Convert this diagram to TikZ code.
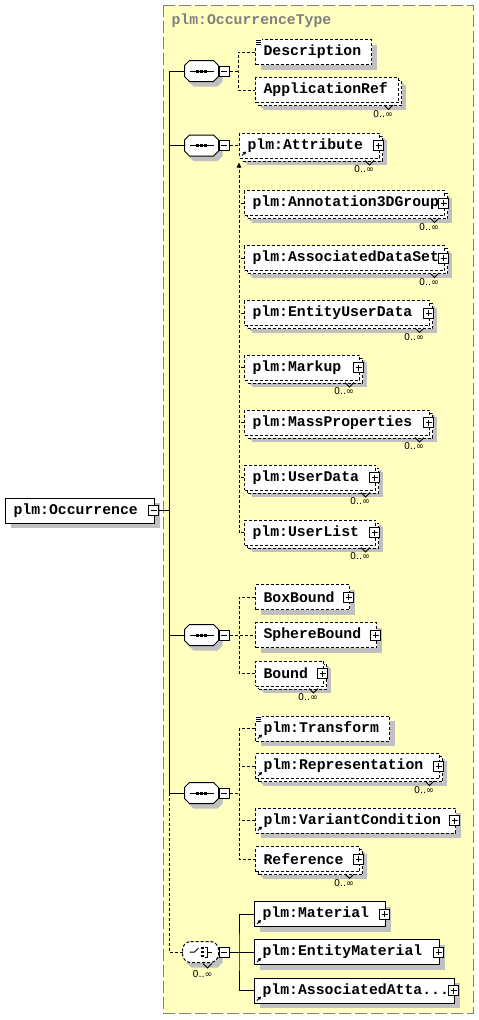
\documentclass[tikz,border=0pt]{standalone}
\usepackage{fontspec}
\usepackage{tikz}
\usetikzlibrary{arrows.meta, positioning, shadows}
\newfontfamily\elfamily{Liberation Mono}
\newfontfamily\cardfamily{DejaVu Sans}
\newcommand\elfont{\elfamily\bfseries\fontsize{14.8}{16}\selectfont\hyphenpenalty=10000 }
\newcommand\cardfont{\cardfamily\fontsize{9.5}{10}\selectfont}
\definecolor{typebg}{RGB}{255,255,192}
\definecolor{typeline}{RGB}{128,128,128}
\definecolor{shadowgray}{RGB}{192,192,192}
% outline of a compositor box
\newcommand\octpath[1]{([xshift=5pt]#1.north west) -- ([xshift=-5pt]#1.north east)
  -- ([yshift=-5pt]#1.north east) -- ([yshift=5pt]#1.south east)
  -- ([xshift=-5pt]#1.south east) -- ([xshift=5pt]#1.south west)
  -- ([yshift=5pt]#1.south west) -- ([yshift=-5pt]#1.north west) -- cycle}
\tikzset{
  opt/.style={dash pattern=on 3pt off 2pt},
  elem/.style={draw, fill=white, font=\elfont, anchor=west, minimum height=25pt,
    inner xsep=8pt, inner ysep=0pt, text width=#1, align=left,
    drop shadow={shadow xshift=5pt, shadow yshift=-5pt, fill=shadowgray, opacity=1}},
  many/.style={drop shadow={shadow xshift=7pt, shadow yshift=-7pt, fill=shadowgray, opacity=1},
    general shadow={shadow xshift=3pt, shadow yshift=-3pt, draw=black, fill=white, opt}},
  comp/.style={minimum width=33pt, minimum height=20pt, inner sep=0pt},
  compshadow/.style={fill=shadowgray, transform canvas={shift={(4pt,-5pt)}}},
  pmbox/.style={draw, solid, fill=white, minimum size=10pt, inner sep=0pt},
  plusbox/.style={pmbox, path picture={
    \draw ([xshift=-3pt]path picture bounding box.center) -- ([xshift=3pt]path picture bounding box.center);
    \draw ([yshift=-3pt]path picture bounding box.center) -- ([yshift=3pt]path picture bounding box.center);}},
  minusbox/.style={pmbox, path picture={
    \draw ([xshift=-3pt]path picture bounding box.center) -- ([xshift=3pt]path picture bounding box.center);}},
  card/.style={font=\cardfont, inner sep=0pt},
  refarrow/.style={solid, -{Triangle[length=3pt, width=3.5pt]}}
}

\begin{document}
\begin{tikzpicture}[x=1pt, y=-1pt, line width=1pt]
  \useasboundingbox (0,0) rectangle (479,1020);
  % complex type
  \draw[typeline, fill=typebg, dash pattern=on 12pt off 4pt] (163,5) rectangle (473,1013);
  \node[font=\elfont, text=typeline, anchor=west, inner sep=0pt] (title) at (171,21) {plm:OccurrenceType};

  \node[elem=133pt] (root) at (5,510.5) {plm:Occurrence};
  \node[minusbox] (root-m) at ([xshift=-1.5pt]root.east) {};
  \coordinate (trunk) at (169,510.5);

  % sequences
  \foreach \s/\y in {seqA/71, seqB/145.5, seqC/635, seqD/793} {
    \node[comp] (\s) at (201.5,\y) {};
    \fill[compshadow] \octpath{\s};
    \draw[fill=white] \octpath{\s};
    \draw ([xshift=-12pt]\s.center) -- ([xshift=12pt]\s.center);
    \foreach \d in {-4,0,4}
      \fill ([xshift=\d pt]\s.center) +(-1.5pt,-1.5pt) rectangle +(1.5pt,1.5pt);
    \node[minusbox, right=0pt of \s] (\s-m) {};
  }
  % choice
  \node[comp, minimum width=35pt] (choiceE) at (200.5,952) {};
  \fill[compshadow] \octpath{choiceE};
  \draw[opt, fill=white, rounded corners=3pt] \octpath{choiceE};
  \draw ([xshift=-11pt]choiceE.center) -- ([xshift=-6pt]choiceE.center) -- ([shift={(-2pt,4pt)}]choiceE.center);
  \foreach \d in {-4,0,4}
    \fill ([shift={(2pt,\d pt)}]choiceE.center) +(-1.3pt,-1.3pt) rectangle +(1.3pt,1.3pt);
  \draw ([shift={(4.5pt,5pt)}]choiceE.center) -- ++(2pt,0pt) -- ++(0pt,-10pt) -- ++(-2pt,0pt);
  \draw ([xshift=6.5pt]choiceE.center) -- ([xshift=11pt]choiceE.center);
  \draw[solid] ([shift={(2.5pt,-1pt)}]choiceE.south) -- ++(4.5pt,-4.5pt) -- ++(4.5pt,4.5pt);
  \node[card] (choiceE-c) at ([shift={(2pt,-12pt)}]choiceE.south) {0..∞};
  \node[minusbox, right=0pt of choiceE] (choiceE-m) {};

  % elements
  \foreach \n/\x/\y/\w/\t in {desc/255/52/100/Description, boxb/255/597/78/BoxBound,
      sphb/255/635/105/SphereBound, trans/255/728.5/118/plm:Transform,
      varc/255/820.5/184/plm:VariantCondition}
    \node[elem=\w pt, opt] (\n) at (\x,\y) {\t};
  \foreach \n/\x/\y/\w/\t in {appref/255/90/127/ApplicationRef, attr/239/145.5/124/plm:Attribute,
      a3d/244/203/184/plm:Annotation3DGroup, ads/244/258/184/plm:AssociatedDataSet,
      eud/244/313/169/plm:EntityUserData, markup/244/367.5/99/plm:Markup,
      mass/244/422.5/169/plm:MassProperties, udata/244/477.5/115/plm:UserData,
      ulist/244/532.5/115/plm:UserList, bound/255/673.5/52/Bound,
      repr/255/766/168/plm:Representation, refe/255/859/88/Reference}
    \node[elem=\w pt, opt, many] (\n) at (\x,\y) {\t};
  \node[elem=115pt] (mat) at (254,914) {plm:Material};
  \node[elem=169pt] (emat) at (254,952) {plm:EntityMaterial};
  \node[elem=184pt] (aatt) at (254,990.5) {plm:AssociatedAtta...};

  \foreach \n in {attr,a3d,ads,eud,markup,mass,udata,ulist,boxb,sphb,bound,repr,varc,refe,mat,emat,aatt}
    \node[plusbox] (\n-p) at ([xshift=-1.5pt]\n.east) {};
  \foreach \n in {appref,attr,a3d,ads,eud,markup,mass,udata,ulist,bound,repr,refe} {
    \draw[solid] ([shift={(-15pt,-2pt)}]\n.south east) -- ++(4.5pt,-4.5pt) -- ++(4.5pt,4.5pt);
    \node[card] (\n-c) at ([shift={(-16pt,-11pt)}]\n.south east) {0..∞};
  }
  \foreach \n in {attr,trans,repr,varc,mat,emat,aatt}
    \draw[refarrow] ([shift={(3pt,3pt)}]\n.south west) -- ++(4pt,4pt);
  \foreach \n in {desc,trans} {
    \fill[white] ([shift={(-0.5pt,0.5pt)}]\n.north west) rectangle ++(7pt,-7pt);
    \foreach \d in {1.5,3.5,5.5}
      \draw[line width=0.8pt] ([shift={(0.5pt,-\d pt)}]\n.north west) -- ++(5pt,0pt);
  }

  % trunk
  \draw (root-m.east) -- (trunk);
  \draw (seqA.west) -- (seqA.west -| trunk) -- (seqD.west -| trunk) -- (seqD.west);
  \draw (seqB.west) -- (seqB.west -| trunk);
  \draw (seqC.west) -- (seqC.west -| trunk);
  \draw[opt] (seqD.west -| trunk) |- (choiceE.west);
  % first sequence
  \coordinate (spA) at (238,71);
  \draw[opt] (seqA-m.east) -- (spA);
  \draw[opt] (desc.west) -| (spA) |- (appref.west);
  % substitution group of plm:Attribute
  \draw[opt] (seqB-m.east) -- (attr.west);
  \foreach \n in {a3d,ads,eud,markup,mass,udata}
    \draw[opt] (\n.west) -- (\n.west -| attr.west);
  \draw[opt, -{Triangle[length=5pt, width=4.5pt]}] (ulist.west) -| ([yshift=-4pt]attr.south west);
  % bounds
  \coordinate (spC) at (239,635);
  \draw[opt] (seqC-m.east) -- (sphb.west);
  \draw[opt] (boxb.west) -| (spC) |- (bound.west);
  % fourth sequence
  \coordinate (spD) at (239,793);
  \draw[opt] (seqD-m.east) -- (spD);
  \draw[opt] (trans.west) -| (spD) |- (refe.west);
  \draw[opt] (repr.west) -- (repr.west -| spD);
  \draw[opt] (varc.west) -- (varc.west -| spD);
  % materials
  \coordinate (spE) at (239,952);
  \draw (choiceE-m.east) -- (emat.west);
  \draw (mat.west) -| (spE) |- (aatt.west);
\end{tikzpicture}
\end{document}
